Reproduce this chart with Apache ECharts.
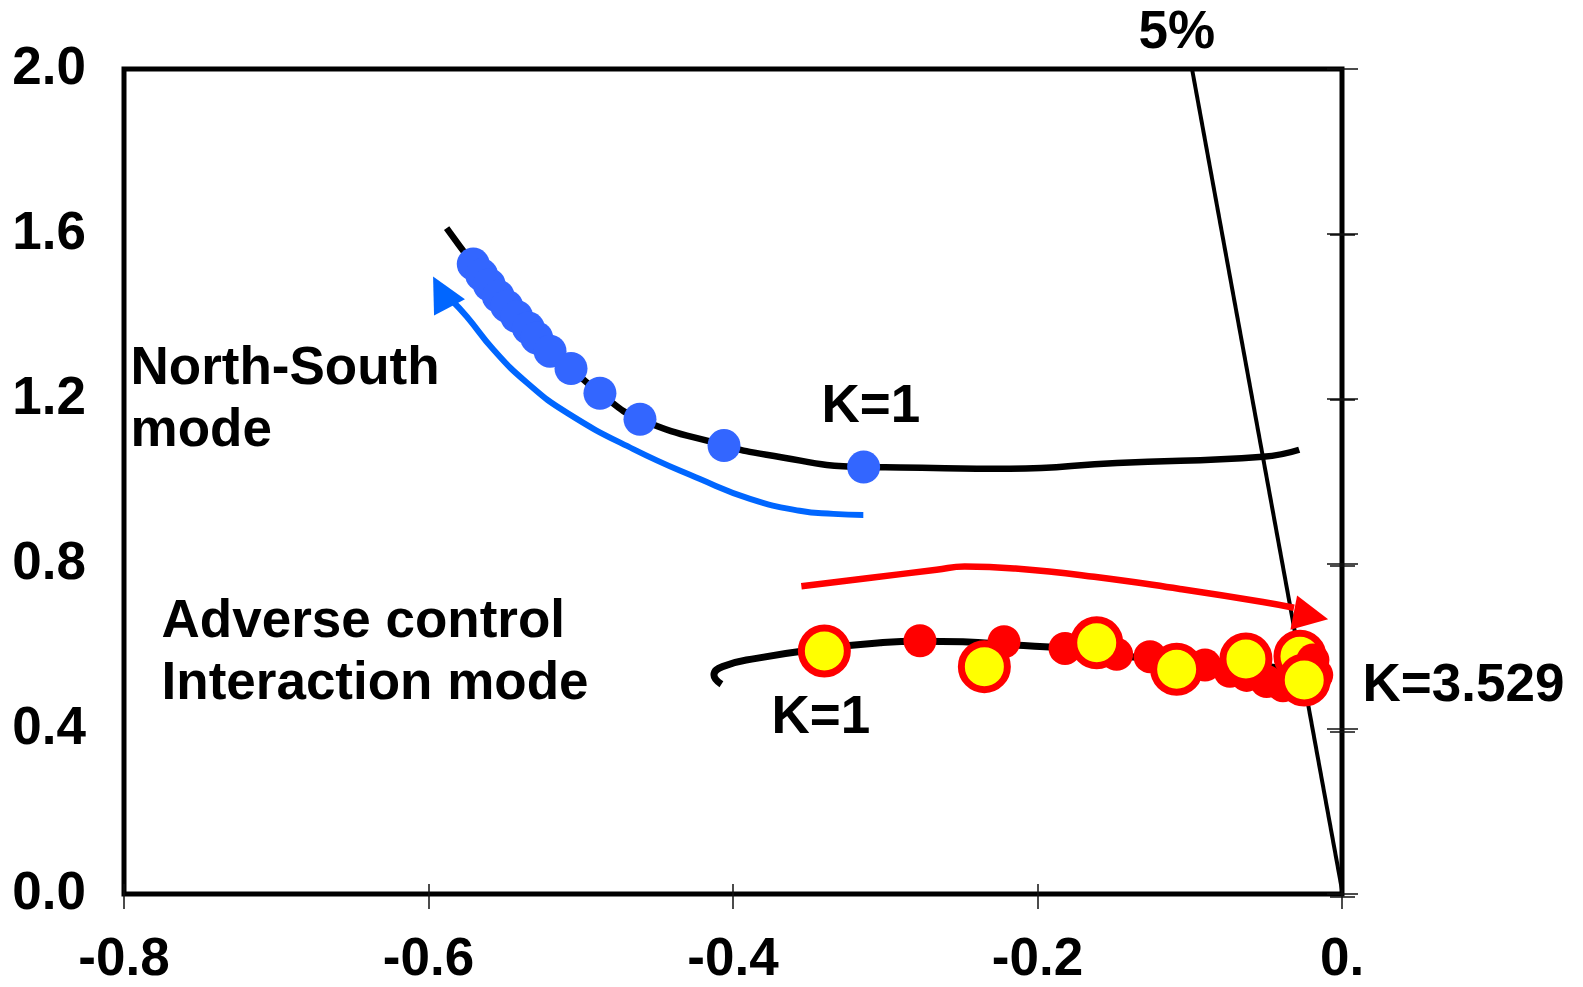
<!DOCTYPE html>
<html>
<head>
<meta charset="utf-8">
<script src="https://cdn.jsdelivr.net/npm/echarts@6/dist/echarts.min.js"></script>
<style>
  html, body { margin: 0; padding: 0; background: #fff; }
  #main { width: 1583px; height: 987px; }
</style>
</head>
<body>
<div id="main"></div>
<script>
// tick labels
var xTickLabels = ['-0.8', '-0.6', '-0.4', '-0.2', '0.'];
var yTickLabels = ['0.0', '0.4', '0.8', '1.2', '1.6', '2.0'];

// North-South mode: locus (black) and eigenvalues (blue)
var nsCurve = [
  [-0.5881, 1.614], [-0.5706, 1.527], [-0.5486, 1.425], [-0.5289, 1.348],
  [-0.5064, 1.274], [-0.4874, 1.214], [-0.4611, 1.151], [-0.4059, 1.088],
  [-0.3780, 1.065], [-0.3140, 1.035], [-0.2903, 1.034], [-0.2181, 1.031],
  [-0.1478, 1.045], [-0.0520, 1.060], [-0.0281, 1.077]
];
var nsPoints = [
  [-0.5706, 1.527], [-0.5651, 1.501], [-0.5601, 1.477], [-0.5542, 1.449],
  [-0.5486, 1.425], [-0.5421, 1.400], [-0.5344, 1.372], [-0.5289, 1.348],
  [-0.5202, 1.316], [-0.5064, 1.274], [-0.4874, 1.214], [-0.4611, 1.151],
  [-0.4059, 1.087], [-0.3142, 1.035]
];
// blue arrow
var blueArrow = [
  [-0.3144, 0.919], [-0.3341, 0.9215], [-0.3562, 0.929], [-0.3888, 0.958],
  [-0.4217, 1.006], [-0.4655, 1.0785], [-0.5092, 1.167], [-0.5355, 1.240],
  [-0.5574, 1.320], [-0.5749, 1.400], [-0.5850, 1.440]
];
var blueArrowHead = [[-0.5916, 1.4595]];

// 5% damping line
var dampLine = [[-0.0985, 2.0], [0.0, 0.01]];

// adverse control interaction mode
var acCurve = [
  [-0.4076, 0.5085], [-0.4125, 0.5309], [-0.4069, 0.5512], [-0.3847, 0.5713],
  [-0.3409, 0.5954], [-0.3034, 0.6092], [-0.2772, 0.6130], [-0.2489, 0.6116],
  [-0.2161, 0.6034], [-0.1819, 0.5954], [-0.1392, 0.5754], [-0.0703, 0.5592],
  [-0.0350, 0.545]
];
var acRedPoints = [
  [-0.2772, 0.614], [-0.2220, 0.6116], [-0.1819, 0.5954], [-0.1480, 0.581],
  [-0.1261, 0.5754], [-0.0900, 0.555], [-0.0736, 0.540], [-0.0626, 0.530],
  [-0.0495, 0.515], [-0.0388, 0.505], [-0.0191, 0.567], [-0.0166, 0.531]
];
var acYellowBack = [[-0.0276, 0.5761]];
var acYellowPoints = [
  [-0.3400, 0.5889], [-0.2349, 0.5512], [-0.1611, 0.6092], [-0.1086, 0.5447],
  [-0.0631, 0.5696], [-0.0248, 0.5188]
];
// red arrow
var redArrow = [
  [-0.3551, 0.746], [-0.3107, 0.766], [-0.2663, 0.786], [-0.2478, 0.794],
  [-0.2145, 0.789], [-0.1628, 0.769], [-0.1073, 0.740], [-0.0519, 0.708],
  [-0.0315, 0.694]
];
var redArrowHead = [[-0.0204, 0.674]];

// text annotations [text, x, y]
var notes = [
  ['North-South\nmode', -0.7954, 1.195],
  ['Adverse control\nInteraction mode', -0.7750, 0.583],
  ['K=1', -0.3415, 1.178],
  ['K=1', -0.3744, 0.4257],
  ['K=3.529', 0.0138, 0.5018],
  ['5%', -0.1333, 2.085]
];

var FONT = 'Liberation Sans, Arial, Helvetica, sans-serif';
var tickStyle = { color: '#111', width: 1.5 };
var labelStyle = { color: '#000', fontSize: 53, fontWeight: 'bold', fontFamily: FONT };

function xAx(grid, inside, len, labels) {
  return {
    type: 'value', gridIndex: grid, position: 'bottom', min: -0.8, max: 0, interval: 0.2,
    axisLine: { show: false }, splitLine: { show: false },
    axisTick: { show: true, inside: inside, length: len, lineStyle: tickStyle },
    axisLabel: labels ? Object.assign({
      margin: 40,
      formatter: function (v, i) { return xTickLabels[i]; }
    }, labelStyle) : { show: false }
  };
}
function yAx(grid, pos, inside, len, labels) {
  return {
    type: 'value', gridIndex: grid, position: pos, min: 0, max: 2, interval: 0.4,
    axisLine: { show: false }, splitLine: { show: false },
    axisTick: { show: true, inside: inside, length: len, lineStyle: tickStyle },
    axisLabel: labels ? Object.assign({
      margin: 38,
      formatter: function (v, i) { return yTickLabels[i]; }
    }, labelStyle) : { show: false }
  };
}

// lines under markers
function curve(data, color, width, smooth) {
  return {
    type: 'line', data: data, smooth: smooth, symbol: 'none', silent: true, z: 2,
    lineStyle: { color: color, width: width }
  };
}
function dots(data, size, style, extra) {
  return Object.assign({
    type: 'scatter', data: data, symbolSize: size, silent: true, z: 3,
    itemStyle: Object.assign({ opacity: 1 }, style)
  }, extra || {});
}

var gridRect = { left: 124, right: 241, top: 69, bottom: 90 };
var chart = echarts.init(document.getElementById('main'));
var option = {
  animation: false,
  backgroundColor: '#fff',
  grid: [
    Object.assign({ show: true, borderColor: '#000', borderWidth: 5, backgroundColor: 'transparent' }, gridRect),
    Object.assign({ show: false }, gridRect)
  ],
  xAxis: [xAx(0, false, 15, true), xAx(1, true, 13, false)],
  yAxis: [
    yAx(0, 'left', false, 15, true), yAx(0, 'right', false, 16, false),
    yAx(1, 'left', true, 13, false), yAx(1, 'right', true, 12, false)
  ],
  series: [
    curve(nsCurve, '#000', 6.5, true),
    curve(blueArrow, '#0066ff', 6, 0.5),
    curve(dampLine, '#000', 4, false),
    curve(acCurve, '#000', 7, true),
    curve(redArrow, '#ff0000', 6.5, true),
    dots(nsPoints, 33, { color: '#3366ff' }),
    dots(blueArrowHead, [35, 35], { color: '#0066ff' }, { symbol: 'triangle', symbolRotate: 28 }),
    dots(redArrowHead, [35, 35], { color: '#ff0000' }, { symbol: 'triangle', symbolRotate: -101 }),
    dots(acYellowBack, 46, { color: '#ffff00', borderColor: '#ff0000', borderWidth: 7 }),
    dots(acRedPoints, 33, { color: '#ff0000' }),
    dots(acYellowPoints, 46, { color: '#ffff00', borderColor: '#ff0000', borderWidth: 7 }),
    {
      type: 'scatter', silent: true, clip: false, symbolSize: 1, z: 4,
      itemStyle: { color: 'rgba(0,0,0,0)', opacity: 1 },
      data: notes.map(function (n) { return { name: n[0], value: [n[1], n[2]] }; }),
      label: Object.assign({
        show: true, position: [0, 0], align: 'left', verticalAlign: 'middle',
        lineHeight: 62, opacity: 1,
        formatter: function (p) { return p.name; }
      }, labelStyle)
    }
  ]
};
chart.setOption(option);
</script>
</body>
</html>
